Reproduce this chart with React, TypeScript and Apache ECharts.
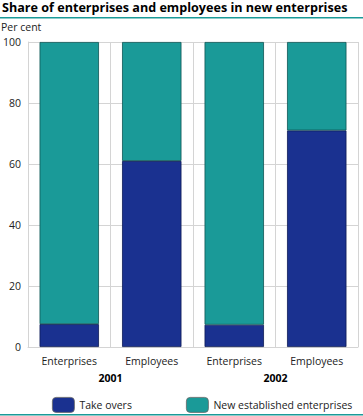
import React, { useEffect, useRef } from "react";
import * as echarts from "echarts";

const categories = ["Enterprises", "Employees", "Enterprises", "Employees"];
const years = ["2001", "2002"];
const takeOvers = [7.5, 61, 7.3, 71];
const newEstablished = [92.5, 39, 92.7, 29];
const yTicks = { min: 0, max: 100, interval: 20 };

const BLUE = "#1a3190";
const TEAL = "#1a9a98";
const FONT = "Open Sans";

export default function App() {
  const ref = useRef<HTMLDivElement>(null);
  useEffect(() => {
    if (!ref.current) return;
    const chart = echarts.init(ref.current, undefined, { renderer: "svg" });
    const legendCommon = {
      top: 392,
      orient: "horizontal",
      itemWidth: 22,
      itemHeight: 15,
      textStyle: { fontFamily: FONT, fontSize: 10.5, color: "#222" },
    };
    chart.setOption({
      animation: false,
      textStyle: { fontFamily: FONT },
      grid: { left: 26, right: 5, top: 42, bottom: 69 },
      graphic: [
        {
          type: "text",
          left: 2,
          top: 1,
          style: { text: "Share of enterprises and employees in new enterprises", font: `bold 12.6px "${FONT}"`, fill: "#000" },
        },
        { type: "rect", left: 0, top: 17, shape: { width: 363, height: 1.5 }, style: { fill: TEAL } },
        {
          type: "text",
          left: 1,
          top: 21,
          style: { text: "Per cent", font: `10.5px "${FONT}"`, fill: "#222" },
        },
        { type: "rect", left: 0, top: 414, shape: { width: 363, height: 1.5 }, style: { fill: TEAL } },
      ],
      legend: [
        {
          ...legendCommon,
          left: 47,
          data: [{ name: "Take overs", itemStyle: { borderColor: "#666", borderWidth: 0.8 } }],
        },
        {
          ...legendCommon,
          left: 181,
          data: [{ name: "New established enterprises", itemStyle: { borderColor: "#666", borderWidth: 0.8 } }],
        },
      ],
      xAxis: [
        {
          type: "category",
          data: categories,
          axisLine: { show: true, lineStyle: { color: "#d4d4d4" } },
          axisTick: { show: false },
          splitLine: { show: true, lineStyle: { color: "#d4d4d4" } },
          axisLabel: { fontFamily: FONT, fontSize: 10.5, color: "#222", margin: 8 },
        },
        {
          type: "category",
          data: years,
          position: "bottom",
          offset: 17,
          axisLine: { show: false },
          axisTick: { show: false },
          axisLabel: { fontFamily: FONT, fontSize: 10.5, fontWeight: "bold", color: "#000", margin: 8 },
        },
      ],
      yAxis: {
        type: "value",
        min: yTicks.min,
        max: yTicks.max,
        interval: yTicks.interval,
        axisLine: { show: true, lineStyle: { color: "#d4d4d4" } },
        axisTick: { show: false },
        splitLine: { show: true, lineStyle: { color: "#d4d4d4" } },
        axisLabel: { fontFamily: FONT, fontSize: 10.5, color: "#222", margin: 7 },
      },
      series: [
        {
          name: "Take overs",
          type: "bar",
          stack: "s",
          data: takeOvers,
          barWidth: "72%",
          itemStyle: { color: BLUE, borderColor: "#0d1a55", borderWidth: 0.8 },
        },
        {
          name: "New established enterprises",
          type: "bar",
          stack: "s",
          data: newEstablished,
          barWidth: "72%",
          itemStyle: { color: TEAL, borderColor: "#0e5554", borderWidth: 0.8 },
        },
      ],
    });
    return () => chart.dispose();
  }, []);
  return <div ref={ref} style={{ width: 363, height: 416, position: "absolute", left: 0, top: 0 }} />;
}
